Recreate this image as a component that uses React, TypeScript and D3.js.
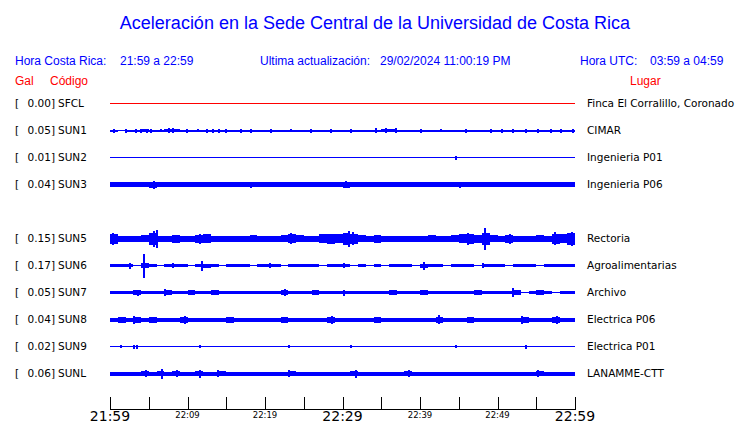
import React from "react";
import * as d3 from "d3";

const W = 740;
const H = 423;

const title = "Aceleración en la Sede Central de la Universidad de Costa Rica";
const horaCR = "21:59 a 22:59";
const actualizacion = "29/02/2024 11:00:19 PM";
const horaUTC = "03:59 a 04:59";

// Stations (row index, peak Gal, code, place, colour); row 4 (SUN4) is empty
const rows = [0, 1, 2, 3, 5, 6, 7, 8, 9, 10];
const gal = ["0.00", "0.05", "0.01", "0.04", "0.15", "0.17", "0.05", "0.04", "0.02", "0.06"];
const codes = ["SFCL", "SUN1", "SUN2", "SUN3", "SUN5", "SUN6", "SUN7", "SUN8", "SUN9", "SUNL"];
const places = [
  "Finca El Corralillo, Coronado",
  "CIMAR",
  "Ingenieria P01",
  "Ingenieria P06",
  "Rectoria",
  "Agroalimentarias",
  "Archivo",
  "Electrica P06",
  "Electrica P01",
  "LANAMME-CTT",
];
const traceColors = ["#ff0000", "#0000ff", "#0000ff", "#0000ff", "#0000ff", "#0000ff", "#0000ff", "#0000ff", "#0000ff", "#0000ff"];

// Envelope half-amplitude per minute, 60 values each
const envSFCL = Array(60).fill(0.5);
const envSUN1 = [1, 0.5, 1, 1, 1.5, 1, 1, 1.5, 1.5, 1, 1, 1, 1, 1, 1, 1, 1, 1, 1, 1,
  1, 1, 1, 1, 1, 1, 1, 1, 1, 1, 1, 1, 1, 1, 1, 1.5, 1.5, 1, 1, 1,
  1, 1, 1, 1, 1, 1, 1, 1, 1, 1, 1, 1, 1, 1, 1, 1, 1, 1, 1, 1];
const envSUN2 = Array(60).fill(0.5);
const envSUN3 = [2.5, 2.5, 2.5, 2.5, 2.5, 3, 2.5, 2.5, 2.5, 2.5, 2.5, 2.5, 2.5, 2.5, 2.5, 2.5, 2.5, 2.5, 2.5, 2.5,
  2.5, 2.5, 2.5, 2.5, 2.5, 2.5, 2.5, 2.5, 2.5, 2.5, 3, 2.5, 2.5, 2.5, 2.5, 2.5, 2.5, 2.5, 2.5, 2.5,
  2.5, 2.5, 2.5, 2.5, 2.5, 2.5, 2.5, 2.5, 2.5, 2.5, 2.5, 2.5, 2.5, 2.5, 2.5, 2.5, 2.5, 2.5, 2.5, 2.5];
const envSUN5 = [5, 3, 3, 3, 3.5, 6, 3, 3, 4, 3, 3, 4, 4.5, 3, 3, 3, 3, 3, 3.5, 3,
  3, 3, 3.5, 4.5, 3.5, 3, 3, 4.5, 5, 4.5, 6, 5, 3.5, 3, 4, 3, 3, 3, 3, 3,
  3, 3.5, 3, 3, 3.5, 4.5, 5, 4, 6, 3.5, 3, 4, 3, 3, 3, 3.5, 3, 5, 4.5, 6];
const envSUN6 = [1.5, 1.5, 1.5, 0.5, 2.5, 1.5, 0.5, 1.5, 1.5, 1.5, 0.5, 1.5, 2, 1.5, 0.5, 1.5, 1.5, 1.5, 0.5, 1.5,
  1.5, 1.5, 0.5, 1.5, 1.5, 1.5, 1.5, 0.5, 1.5, 1.5, 1.5, 0.5, 1.5, 0.5, 1.5, 0.5, 1.5, 1.5, 1.5, 0.5,
  2, 1.5, 1.5, 0.5, 1.5, 1.5, 1.5, 0.5, 1.5, 1.5, 1.5, 0.5, 1.5, 1.5, 1.5, 0.5, 1.5, 1.5, 1.5, 1.5];
const envSUN7 = [1.5, 1.5, 1.5, 2.5, 1.5, 1.5, 1.5, 2.5, 1.5, 1.5, 2.5, 1.5, 1.5, 2.5, 1.5, 1.5, 1.5, 1.5, 1.5, 1.5,
  1.5, 1.5, 2.5, 1.5, 1.5, 1.5, 2.5, 1.5, 1.5, 1.5, 1.5, 1.5, 1.5, 1.5, 1.5, 1.5, 2.5, 1.5, 1.5, 1.5,
  2.5, 1.5, 1.5, 1.5, 1.5, 1.5, 1.5, 2.5, 1.5, 1.5, 1.5, 1.5, 2.5, 0.5, 1.5, 2.5, 1.5, 0.5, 1.5, 1.5];
const envSUN8 = [2, 3, 2, 3, 2, 3, 2, 2, 2, 3, 2, 2, 2, 2, 2, 3, 2, 2, 2, 2,
  2, 2, 3, 2, 2, 2, 2, 2, 3, 2, 2, 2, 2, 2, 3, 2, 2, 2, 2, 2,
  2, 2, 3, 2, 2, 2, 3, 2, 2, 2, 2, 2, 2, 3, 2, 2, 2, 3, 2, 2];
const envSUN9 = Array(60).fill(0.5);
const envSUNL = [2, 2, 2, 2, 2.5, 2, 2.5, 2, 2.5, 2, 2, 2.5, 2, 2, 2.5, 2, 2, 2, 2, 2,
  2, 2, 2, 2.5, 2, 2, 2, 2, 2, 2, 2, 2.5, 2, 2, 2, 2, 2, 2, 2.5, 2,
  2, 2, 2, 2, 2, 2, 2, 2, 2, 2, 2, 2, 2, 2, 2, 2.5, 2, 2, 2, 2];
const envelopes = [envSFCL, envSUN1, envSUN2, envSUN3, envSUN5, envSUN6, envSUN7, envSUN8, envSUN9, envSUNL];

// Spikes: [minute after 21:59, half-amplitude]
const spkSFCL: number[][] = [];
const spkSUN1 = [[0.4, 2], [1.9, 2], [3.2, 2], [3.9, 2], [4.6, 2], [5.2, 2], [6.5, 1.5], [7.5, 2.5], [8, 2.5], [9.8, 2],
  [11.2, 1.5], [12.4, 2], [13.2, 2], [13.9, 2], [14.8, 2], [16.8, 2], [18.1, 2], [20.6, 2], [23.2, 1.5], [25.8, 2],
  [28.4, 2], [31, 2], [34.2, 2.5], [35.5, 2.5], [36.8, 2.5], [40, 2], [42.6, 1.5], [45.8, 2], [49, 2], [50.5, 2],
  [51.9, 2], [53.5, 2], [55.1, 2], [56.8, 2], [58.1, 2], [59.6, 2]];
const spkSUN2 = [[44.5, 2]];
const spkSUN3 = [[5.5, 4], [30.3, 3.5], [18, 3], [45, 3]];
const spkSUN5 = [[0.3, 6], [5.5, 8], [5.9, 9], [11.5, 5], [23.2, 5.5], [30.7, 8], [31.2, 6.5], [48.3, 11], [51.5, 5], [57.3, 6.5], [59.5, 7], [46, 6]];
const spkSUN6 = [[4.2, 12], [2.5, 3], [11.8, 5], [40.4, 4], [8, 2.5], [20.5, 2.5], [48, 2.5], [30, 2.5]];
const spkSUN7 = [[51.9, 4.5], [7, 3.5], [30, 3], [3.5, 3], [22.5, 3.5]];
const spkSUN8 = [[3, 4], [9.5, 4], [28.5, 4], [42.3, 4.5], [53, 4], [57.5, 4]];
const spkSUN9 = [[1.3, 1.5], [3, 2], [3.3, 2], [11.5, 1.5], [23, 1.5], [44.5, 1.5], [53.5, 2], [31, 1.5]];
const spkSUNL = [[6.6, 5], [8.5, 3.5], [11.5, 4], [13.8, 3.5], [31.6, 4], [55.1, 3.5], [4.5, 3.5], [23, 3.5], [38.5, 3.5]];
const spikes = [spkSFCL, spkSUN1, spkSUN2, spkSUN3, spkSUN5, spkSUN6, spkSUN7, spkSUN8, spkSUN9, spkSUNL];

// Axis ticks: every 5 minutes
const tickMinutes = [0, 5, 10, 15, 20, 25, 30, 35, 40, 45, 50, 55, 60];
const majorTicks = [[0, "21:59"], [30, "22:29"], [60, "22:59"]];
const minorTicks = [[10, "22:09"], [20, "22:19"], [40, "22:39"], [50, "22:49"]];

const BLUE = "#0000ff";
const RED = "#ff0000";
const SANS = "'Liberation Sans', Arial, sans-serif";
const DEJAVU = "'DejaVu Sans', sans-serif";

export default function App() {
  const x = d3.scaleLinear().domain([0, 60]).range([110, 575]);
  const rowY = d3.scaleLinear().domain([0, 1]).range([103, 130]);
  const amp = d3.scaleLinear().domain([0, 1]).range([0, 1]);

  return (
    <svg width={W} height={H} style={{ position: "absolute", left: 0, top: 0, background: "#fff" }}>
      <text x={375} y={29} textAnchor="middle" fill={BLUE} fontFamily={SANS} fontSize={18}>{title}</text>

      <g fontFamily={SANS} fontSize={12} fill={BLUE}>
        <text x={15} y={65}>Hora Costa Rica:</text>
        <text x={120} y={65}>{horaCR}</text>
        <text x={260} y={65}>Ultima actualización:</text>
        <text x={380} y={65}>{actualizacion}</text>
        <text x={580} y={65}>Hora UTC:</text>
        <text x={650} y={65}>{horaUTC}</text>
      </g>
      <g fontFamily={SANS} fontSize={12} fill={RED}>
        <text x={15} y={85}>Gal</text>
        <text x={50} y={85}>Código</text>
        <text x={630} y={85}>Lugar</text>
      </g>

      {rows.map((r, i) => {
        const cy = rowY(r) + 0.5;
        const env = envelopes[i];
        const pts = env.map((a, m) => [m, a]).concat([[60, env[59]]]);
        const area = d3
          .area<number[]>()
          .x((d) => Math.round(x(d[0])))
          .y0((d) => cy - amp(d[1]))
          .y1((d) => cy + amp(d[1]))
          .curve(d3.curveStepAfter);
        return (
          <g key={codes[i]}>
            <g fontFamily={DEJAVU} fontSize={10.5} fill="#000">
              <text x={15} y={cy + 3.5}>[</text>
              <text x={55} y={cy + 3.5} textAnchor="end">{gal[i] + "]"}</text>
              <text x={58} y={cy + 3.5}>{codes[i]}</text>
              <text x={587} y={cy + 3.5}>{places[i]}</text>
            </g>
            <path d={area(pts) || ""} fill={traceColors[i]} stroke="none" shapeRendering="crispEdges" />
            {spikes[i].map((s, k) => (
              <rect key={k} x={Math.round(x(s[0]))} width={2} y={cy - amp(s[1])} height={2 * amp(s[1])} fill={traceColors[i]} shapeRendering="crispEdges" />
            ))}
          </g>
        );
      })}

      <g>
        <line x1={x(0)} x2={x(60) + 1} y1={409.5} y2={409.5} stroke="#000" strokeWidth={1} />
        {tickMinutes.map((m) => (
          <line key={m} x1={Math.round(x(m)) + 0.5} x2={Math.round(x(m)) + 0.5} y1={397} y2={409.5} stroke="#000" strokeWidth={1} />
        ))}
        {majorTicks.map((t) => (
          <text key={t[1] as string} x={x(t[0] as number)} y={421} textAnchor="middle" fontFamily={DEJAVU} fontSize={14} fill="#000">{t[1]}</text>
        ))}
        {minorTicks.map((t) => (
          <text key={t[1] as string} x={x(t[0] as number)} y={418} textAnchor="middle" fontFamily={DEJAVU} fontSize={8.5} fill="#000">{t[1]}</text>
        ))}
      </g>
    </svg>
  );
}
